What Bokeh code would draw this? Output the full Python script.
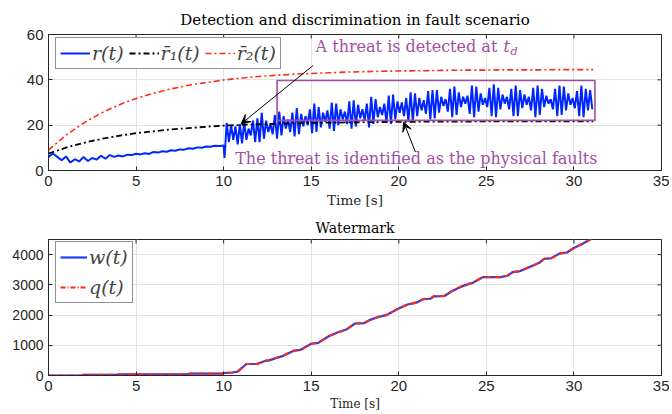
import numpy as np
from bokeh.plotting import figure
from bokeh.models import FixedTicker, Label, Arrow, VeeHead, Legend, LegendItem
from bokeh.layouts import column
from bokeh.embed import file_html
from bokeh.resources import INLINE

# ---------------- data ----------------
# r(t) before the fault (t = 0 .. 10, step 0.25)
r_a_start, r_a_step = 0.0, 0.25
r_a = [6.0, 7.5, 6.0, 4.5, 6.2, 3.5, 5.0, 4.0, 6.0, 4.2, 5.5, 4.8, 6.5, 5.2, 6.8, 6.0, 6.6, 6.2, 7.0, 6.8,
       7.4, 7.1, 7.6, 7.3, 8.2, 7.9, 8.5, 8.3, 8.9, 8.7, 9.3, 9.2, 9.8, 9.6, 10.2, 10.0, 10.6, 10.5, 10.9, 10.8, 11.0]
# r(t) after the fault (t = 10.05 .. 31.05, step 0.125)
r_b_start, r_b_step = 10.05, 0.125
r_b = [5.5, 21.0, 12.5, 20.0, 13.5, 19.5, 11.5, 20.5,
       12.0, 21.5, 13.5, 18.5, 15.5, 22.0, 12.5, 23.0,
       12.5, 25.5, 14.0, 22.0, 17.0, 20.5, 16.0, 24.5,
       14.0, 26.0, 15.5, 24.0, 18.5, 22.5, 17.0, 25.5,
       15.0, 27.5, 16.0, 25.0, 19.5, 24.0, 20.0, 27.0,
       16.5, 29.5, 17.0, 28.0, 19.0, 25.5, 21.5, 26.5,
       18.5, 30.0, 17.5, 29.5, 20.0, 27.0, 22.5, 26.0,
       20.5, 30.5, 18.5, 31.0, 19.5, 29.0, 23.0, 27.0,
       22.0, 29.5, 19.0, 32.5, 20.5, 31.5, 23.5, 28.0,
       24.5, 29.5, 21.0, 33.0, 20.5, 33.5, 22.5, 30.5,
       25.5, 30.0, 24.0, 32.0, 21.5, 34.5, 21.5, 34.0,
       24.0, 32.0, 26.5, 31.0, 25.0, 35.0, 22.5, 35.5,
       23.0, 35.5, 25.5, 32.5, 28.5, 31.5, 26.0, 36.0,
       23.5, 37.0, 24.5, 34.5, 28.0, 32.5, 29.5, 33.0,
       25.0, 37.5, 23.5, 37.0, 26.0, 34.0, 29.0, 32.0,
       28.0, 36.5, 24.0, 38.0, 23.5, 36.5, 27.0, 33.5,
       29.5, 32.5, 27.0, 36.0, 24.0, 37.5, 24.0, 35.5,
       27.5, 33.5, 29.0, 32.5, 26.5, 36.5, 23.5, 37.5,
       24.5, 36.0, 28.0, 33.0, 29.5, 31.5, 27.0, 36.0,
       24.0, 37.5, 24.5, 37.0, 26.5, 34.0, 29.0, 32.0,
       27.5, 35.0, 24.0, 37.5, 23.5, 36.0, 26.5, 35.5,
       27.0]
bar_t = [0, 1, 2, 3, 4, 5, 6, 7, 8, 9, 10, 11, 12, 13, 14, 15, 16, 17, 18, 19, 20,
         21, 22, 23, 24, 25, 26, 27, 28, 29, 30, 31.1]
rbar1 = [7.5, 10.1, 12.2, 13.9, 15.3, 16.5, 17.3, 18.1, 18.7, 19.3, 19.8, 20.1, 20.4, 20.6, 20.8, 21.0,
         21.1, 21.2, 21.3, 21.4, 21.5, 21.5, 21.6, 21.6, 21.6, 21.7, 21.7, 21.7, 21.7, 21.7, 21.7, 21.7]
rbar2 = [9.0, 15.6, 20.9, 25.3, 28.9, 31.8, 34.1, 36.0, 37.6, 38.8, 39.9, 40.8, 41.5, 42.0, 42.5, 42.8,
         43.1, 43.4, 43.6, 43.8, 43.9, 44.0, 44.1, 44.2, 44.3, 44.3, 44.4, 44.4, 44.4, 44.5, 44.5, 44.5]

w_t = [0, 1.9, 2.0, 3.9, 4.0, 7.9, 8.1, 9.9, 10.0, 10.5, 10.8, 11.3, 11.9, 12.4, 12.6, 13.0, 13.4, 14.0,
       14.4, 15.0, 15.4, 16.0, 16.5, 17.0, 17.5, 18.0, 18.4, 18.9, 19.3, 20.0, 20.5, 21.0, 21.4, 21.8,
       22.0, 22.6, 23.0, 23.6, 24.0, 24.2, 24.8, 25.8, 26.2, 26.5, 26.9, 27.5, 28.0, 28.3, 28.7, 29.2,
       29.6, 30.0, 30.5, 31.1]
w_v = [0, 0, 25, 25, 40, 40, 65, 65, 80, 100, 130, 380, 380, 490, 500, 580, 650, 820,
       850, 1050, 1080, 1300, 1420, 1520, 1720, 1730, 1850, 1950, 2000, 2220, 2350, 2410, 2530, 2540,
       2620, 2630, 2780, 2950, 3030, 3060, 3255, 3255, 3300, 3420, 3450, 3600, 3720, 3860, 3880, 4040,
       4070, 4220, 4360, 4560]
q_t = list(w_t)
q_v = list(w_v)

x_ticks = [0, 5, 10, 15, 20, 25, 30, 35]
y1_ticks = [0, 20, 40, 60]
y2_ticks = [0, 1000, 2000, 3000, 4000]

# annotation anchors (data units)
box_t = [13.05, 31.2]
box_v = [22.1, 39.7]
arrow1 = [15.1, 46.3, 11.0, 20.6]
arrow2 = [20.95, 8.1, 20.28, 21.3]
note1_xy = [15.25, 54.8]
note2_xy = [21.0, 5.3]

r_time = np.concatenate([r_a_start + r_a_step * np.arange(len(r_a)),
                         r_b_start + r_b_step * np.arange(len(r_b))])
r_vals = r_a + r_b

# ---------------- style ----------------
AX = "#262626"
GRID = "#e3e3e3"
PURPLE = "#a0509f"
SERIF = "DejaVu Serif"
SANS = "Liberation Sans"
FW, FH = 613, 136
TICK = 4


def style(p, yticks, xmax, ymax, xlabel_size, title_size, title_standoff):
    p.xaxis.ticker = FixedTicker(ticks=x_ticks)
    p.yaxis.ticker = FixedTicker(ticks=yticks)
    for ax in (p.xaxis[0], p.yaxis[0]):
        ax.major_tick_in = TICK
        ax.major_tick_out = 0
        ax.minor_tick_in = 0
        ax.minor_tick_out = 0
        ax.axis_line_color = AX
        ax.major_tick_line_color = AX
        ax.major_label_text_font = SANS
        ax.major_label_text_font_size = "15px"
        ax.major_label_text_color = AX
        ax.major_label_standoff = 5
    p.xaxis.axis_label = "Time [s]"
    p.xaxis.axis_label_text_font = SERIF
    p.xaxis.axis_label_text_font_style = "normal"
    p.xaxis.axis_label_text_font_size = xlabel_size
    p.xaxis.axis_label_text_color = AX
    p.xaxis.axis_label_standoff = 3
    p.xgrid.ticker = FixedTicker(ticks=x_ticks)
    p.ygrid.ticker = FixedTicker(ticks=yticks)
    p.grid.grid_line_color = GRID
    p.outline_line_color = AX
    p.outline_line_width = 1
    # inward ticks on the top and right edges of the box
    dx = xmax / FW * TICK
    dy = ymax / FH * TICK
    p.segment(x0=x_ticks, y0=[ymax] * len(x_ticks), x1=x_ticks, y1=[ymax - dy] * len(x_ticks),
              line_color=AX, line_width=1)
    p.segment(x0=[xmax] * len(yticks), y0=yticks, x1=[xmax - dx] * len(yticks), y1=yticks,
              line_color=AX, line_width=1)
    p.title.align = "center"
    p.title.text_font = SERIF
    p.title.text_font_style = "normal"
    p.title.text_font_size = title_size
    p.title.text_color = "black"
    p.title.standoff = title_standoff


# ---------------- top figure ----------------
p1 = figure(frame_width=FW, frame_height=FH, x_range=(0, 35), y_range=(0, 60),
            output_backend="svg", toolbar_location=None,
            min_border_left=48, min_border_right=8, min_border_top=34, min_border_bottom=10,
            title="Detection and discrimination in fault scenario")
style(p1, y1_ticks, 35, 60, "13.5px", "15px", 12)

l_r = p1.line(r_time, r_vals, line_color="#0026ff", line_width=2)
l_b1 = p1.line(bar_t, rbar1, line_color="black", line_width=1.8, line_dash="6 3 2 3")
l_b2 = p1.line(bar_t, rbar2, line_color="#ff2a12", line_width=1.6, line_dash="6 3 2 3")

p1.quad(left=box_t[0], right=box_t[1], bottom=box_v[0], top=box_v[1],
        fill_alpha=0, line_color=PURPLE, line_width=1.6)

for a in (arrow1, arrow2):
    p1.add_layout(Arrow(end=VeeHead(size=9, fill_color="black", line_color="black", line_width=1),
                        x_start=a[0], y_start=a[1], x_end=a[2], y_end=a[3],
                        line_color="black", line_width=1))

p1.add_layout(Label(x=note1_xy[0], y=note1_xy[1], text="A threat is detected at",
                    text_font=SERIF, text_font_size="16px", text_color=PURPLE,
                    text_baseline="middle", text_align="left"))
p1.add_layout(Label(x=note1_xy[0], y=note1_xy[1], x_offset=188, text="t",
                    text_font=SERIF, text_font_style="italic", text_font_size="16px",
                    text_color=PURPLE, text_baseline="middle", text_align="left"))
p1.add_layout(Label(x=note1_xy[0], y=note1_xy[1], x_offset=195, y_offset=-5, text="d",
                    text_font=SERIF, text_font_style="italic", text_font_size="11px",
                    text_color=PURPLE, text_baseline="middle", text_align="left"))
p1.add_layout(Label(x=note2_xy[0], y=note2_xy[1], text="The threat is identified as the physical faults",
                    text_font=SERIF, text_font_size="16px", text_color=PURPLE,
                    text_baseline="middle", text_align="center"))

leg1 = Legend(items=[LegendItem(label="r(t)", renderers=[l_r]),
                     LegendItem(label="r\u0304\u2081(t)", renderers=[l_b1]),
                     LegendItem(label="r\u0304\u2082(t)", renderers=[l_b2])],
              orientation="horizontal", location=(7, 101), margin=0, padding=4, spacing=5,
              glyph_width=30, glyph_height=20, label_height=20, label_standoff=2,
              label_text_font=SERIF, label_text_font_style="italic", label_text_font_size="19px",
              border_line_color=AX, border_line_width=1.2, background_fill_alpha=1)
p1.add_layout(leg1, "center")

# ---------------- bottom figure ----------------
p2 = figure(frame_width=FW, frame_height=FH, x_range=(0, 35), y_range=(0, 4500),
            output_backend="svg", toolbar_location=None,
            min_border_left=48, min_border_right=8, min_border_top=29, min_border_bottom=10,
            title="Watermark")
style(p2, y2_ticks, 35, 4500, "12px", "14px", 8)
p2.yaxis[0].major_label_text_font_size = "14px"

l_w = p2.line(w_t, w_v, line_color="#1f3dff", line_width=2.2)
l_q = p2.line(q_t, q_v, line_color="#ff2a12", line_width=2.2, line_dash="5 2 1 2")

leg2 = Legend(items=[LegendItem(label="w(t)", renderers=[l_w]),
                     LegendItem(label="q(t)", renderers=[l_q])],
              orientation="vertical", location=(7, 72), margin=0, padding=4, spacing=8,
              glyph_width=27, glyph_height=20, label_height=20, label_standoff=2,
              label_text_font=SERIF, label_text_font_style="italic", label_text_font_size="19px",
              border_line_color=AX, border_line_width=1.2, background_fill_alpha=1)
p2.add_layout(leg2, "center")

layout = column(p1, p2, spacing=0)
open("out.html", "w").write(file_html(layout, INLINE))
